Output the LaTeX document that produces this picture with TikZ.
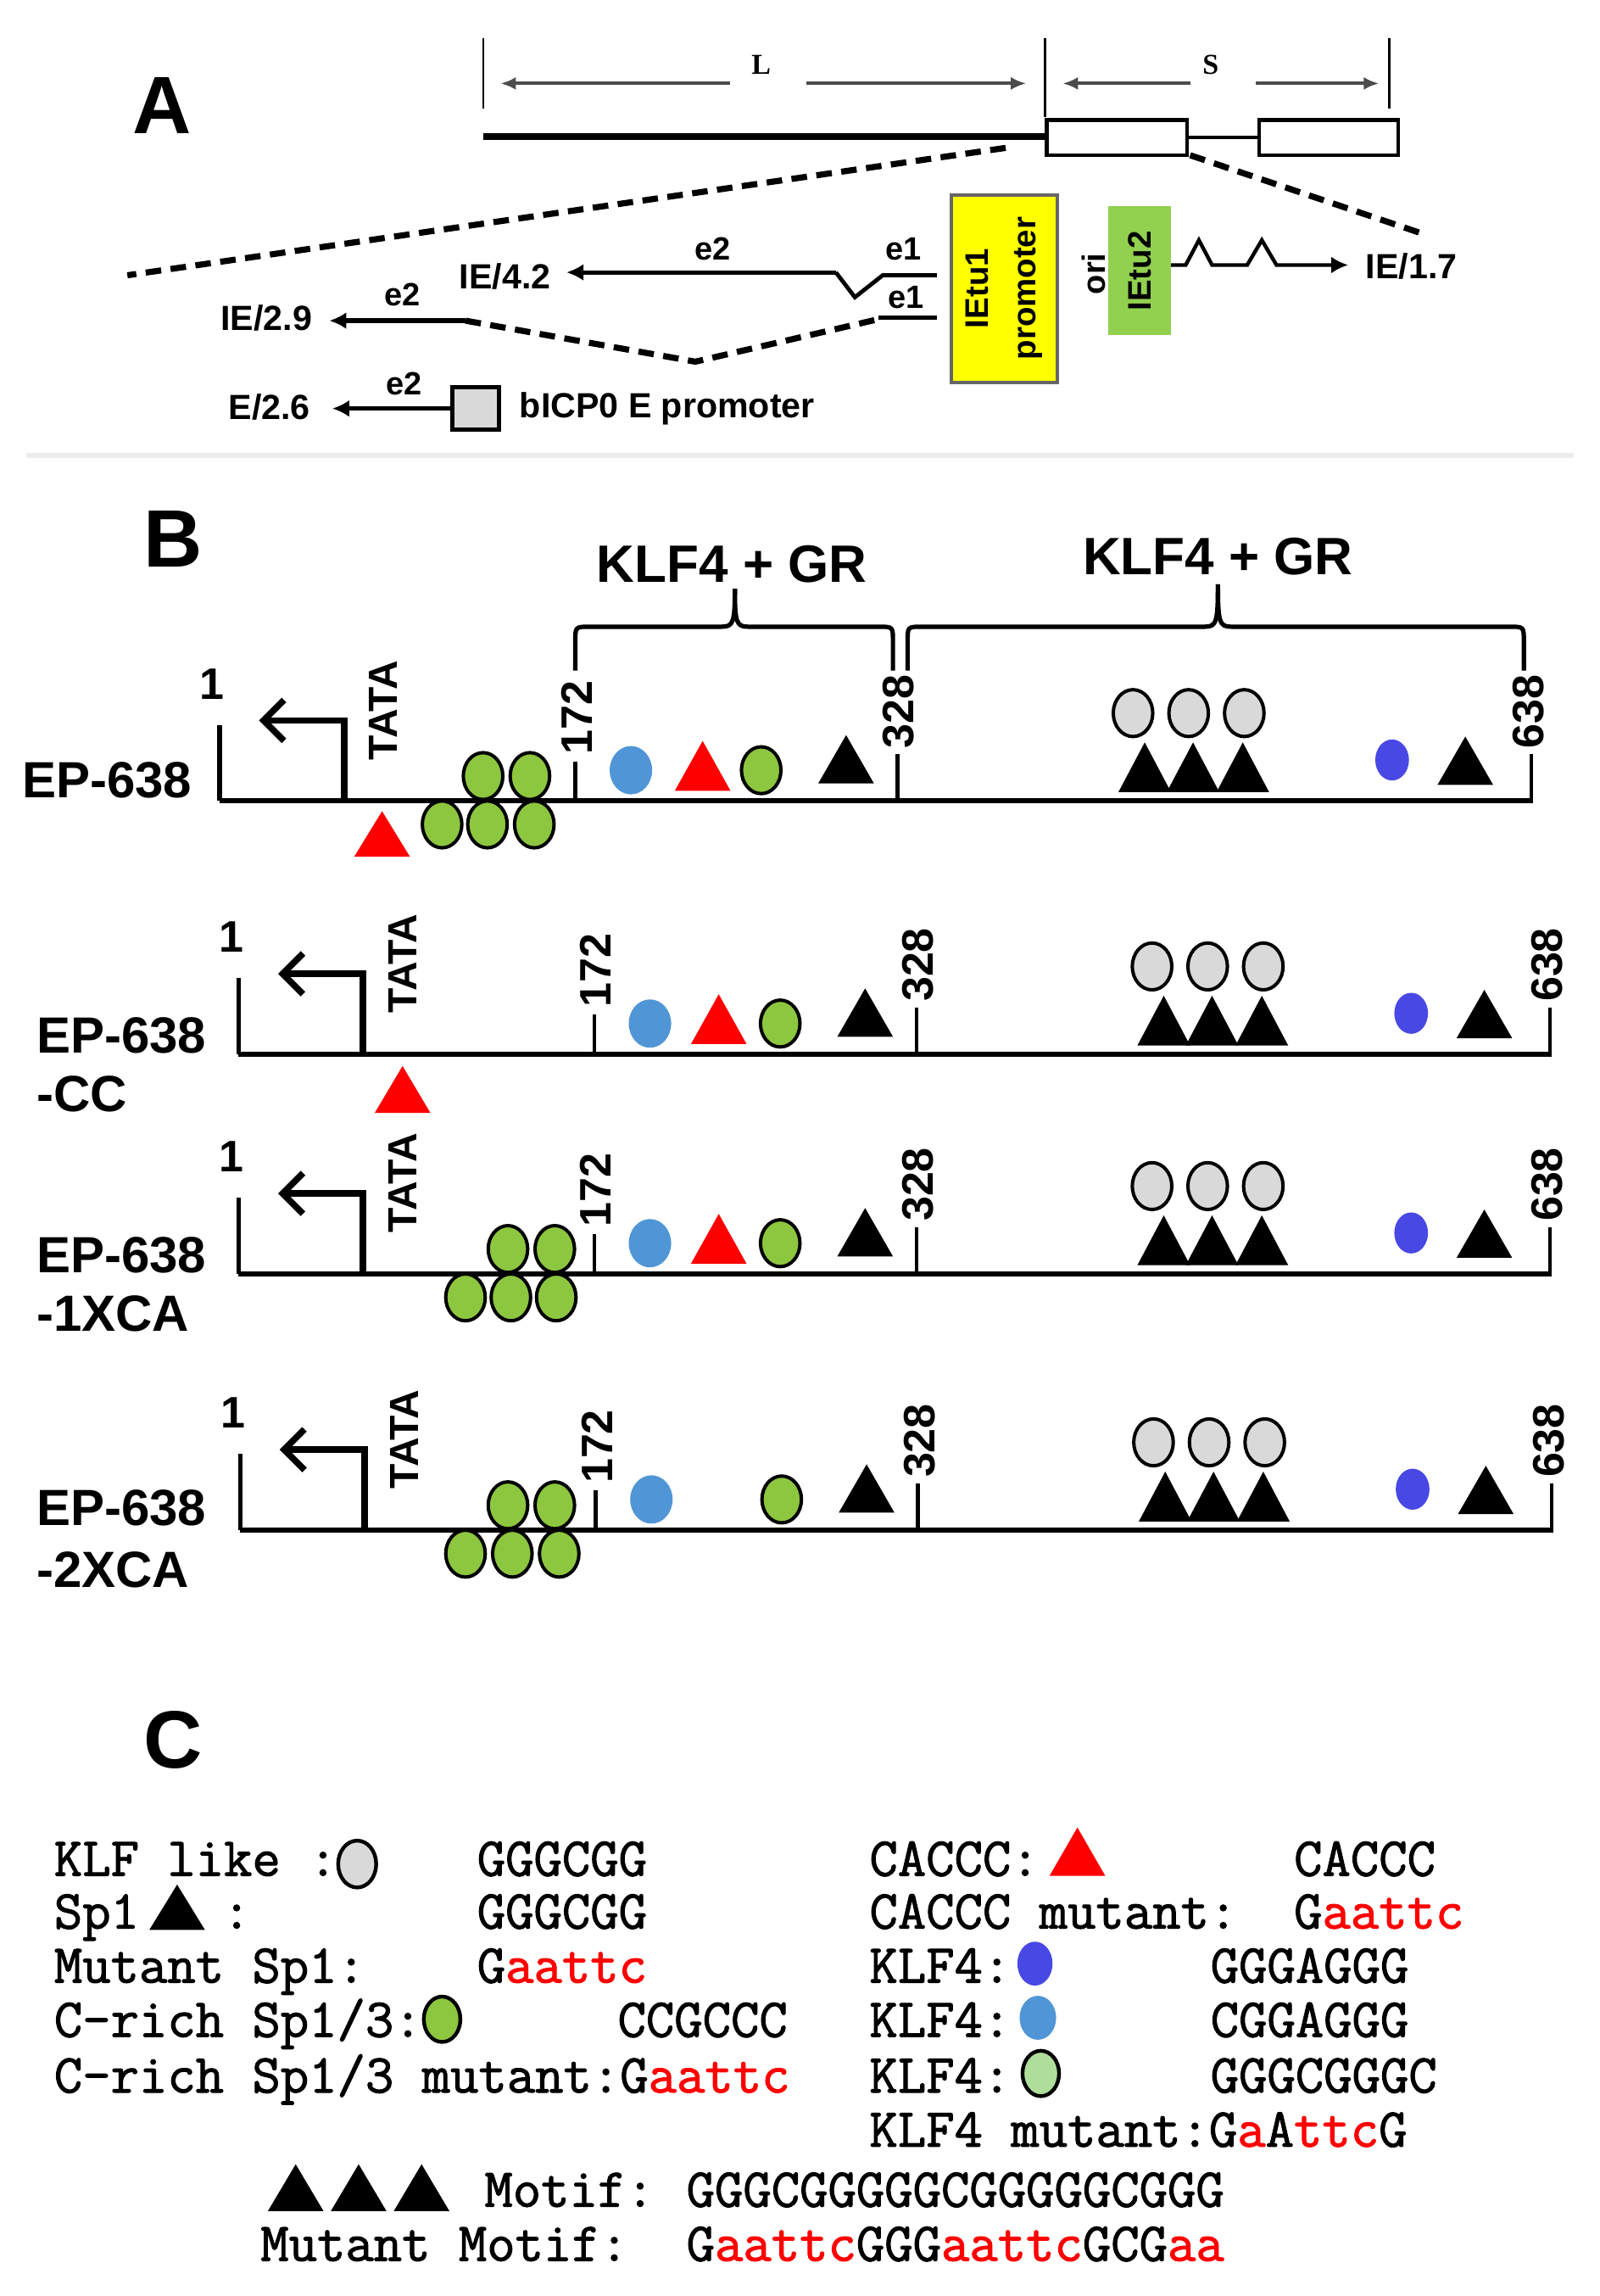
\documentclass[tikz,border=0pt]{standalone}
\usepackage{fontspec}
\setmainfont{Liberation Sans}
\newfontfamily\tnr{Liberation Serif}
\newfontfamily\cour{Latin Modern Mono}[FakeBold=1.6]
\usetikzlibrary{arrows.meta,shapes.geometric}
\definecolor{cgreen}{RGB}{141,198,63}
\definecolor{cgray}{RGB}{217,217,217}
\definecolor{clblue}{RGB}{80,150,215}
\definecolor{cdblue}{RGB}{72,72,228}
\definecolor{cred}{RGB}{255,0,0}
\definecolor{cpale}{RGB}{175,222,155}
\definecolor{cyel}{RGB}{255,255,0}
\definecolor{cietu}{RGB}{146,208,80}
\definecolor{csep}{RGB}{236,236,236}
\newcommand\gc[2]{\filldraw[fill=cgreen,draw=black,line width=1pt] (#1,#2) ellipse [x radius=13.5,y radius=16];}
\newcommand\grc[2]{\filldraw[fill=cgray,draw=black,line width=1pt] (#1,#2) ellipse [x radius=13.5,y radius=16];}
\newcommand\lbc[2]{\fill[clblue] (#1,#2) ellipse [x radius=14.5,y radius=16.5];}
\newcommand\dbc[2]{\fill[cdblue] (#1,#2) ellipse [x radius=11.5,y radius=14];}
% colour, x centre, y base, half width, height
\newcommand\tri[5]{\fill[#1] (#2-#4,#3) -- (#2+#4,#3) -- (#2,#3-#5) -- cycle;}
\newcommand\brc[4]{%
\draw[line width=1.3pt] (#1,458) -- (#1,438) .. controls (#1,428) .. (#1+10,428) -- (#3-9,428) .. controls (#3-1,428) and (#3,425) .. (#3,#4);
\draw[line width=1.3pt] (#2,458) -- (#2,438) .. controls (#2,428) .. (#2-10,428) -- (#3+9,428) .. controls (#3+1,428) and (#3,425) .. (#3,#4);}
\newcommand\prow[2]{%
\begin{scope}[shift={(#1,#2)}]
\draw[line width=1.5pt] (150,0) -- (1047,0);
\draw[line width=1.3pt] (150,0) -- (150,-52);
\node[num] at (145,-80) {1};
\draw[line width=1.9pt,-{Straight Barb[length=6pt,width=12pt]}] (235,0) -- (235,-55) -- (177,-55);
\node[tata] at (262,-28) {TATA};
\draw[line width=1.1pt] (393,0) -- (393,-27);
\node[rnum] at (394,-32) {172};
\draw[line width=1.1pt] (613,0) -- (613,-32);
\node[rnum] at (614,-36) {328};
\draw[line width=1.1pt] (1046,0) -- (1046,-32);
\node[rnum] at (1044,-36) {638};
\lbc{431}{-21}
\gc{520}{-21}
\tri{black}{578}{-12}{19}{33}
\grc{774}{-60}\grc{812}{-60}\grc{850}{-60}
\tri{black}{782}{-6}{18}{34}\tri{black}{815}{-6}{18}{34}\tri{black}{849}{-6}{18}{34}
\dbc{951}{-28}
\tri{black}{1001}{-11}{19}{33}
\end{scope}}
\begin{document}
\begin{tikzpicture}[x=0.4316pt,y=-0.4316pt,
  every node/.style={inner sep=0pt,outer sep=0pt},
  sa/.style={font=\bfseries\fontsize{10.3}{12}\selectfont},
  se/.style={font=\bfseries\fontsize{9.5}{11}\selectfont},
  lsf/.style={font=\tnr\bfseries\fontsize{8.5}{10}\selectfont},
  big/.style={font=\bfseries\fontsize{24}{28}\selectfont},
  klf/.style={font=\bfseries\fontsize{15.5}{18}\selectfont},
  eplab/.style={font=\bfseries\fontsize{15}{18}\selectfont,anchor=west},
  num/.style={font=\bfseries\fontsize{13}{15}\selectfont},
  rnum/.style={num,rotate=90,anchor=west},
  tata/.style={font=\bfseries\fontsize{12}{14}\selectfont,rotate=90,anchor=west},
  mono/.style={font=\cour\fontsize{16.2}{18}\selectfont,anchor=base west},
  dimarr/.style={line width=1pt,black!70,-{Latex[length=4.5pt,width=3.8pt]}},
  dline/.style={line width=1.8pt,dash pattern=on 4.6pt off 2.8pt},
  sarr/.style={line width=1.3pt,-{Latex[length=5pt,width=5pt]}},
]
\useasboundingbox (0,0) rectangle (1093,1568);
\fill[white] (0,0) rectangle (1093,1568);
% ================= Panel A =================
\node[big] (labA) at (111,72) {A};
\draw[line width=0.6pt] (330,26) -- (330,74);
\draw[line width=0.6pt] (714,26) -- (714,80);
\draw[line width=0.6pt] (949,26) -- (949,74);
\node[lsf] (Lt) at (520,44) {L};
\node[lsf] (St) at (827,44) {S};
\draw[dimarr] (499,57) -- (342,57);
\draw[dimarr] (551,57) -- (701,57);
\draw[dimarr] (813,57) -- (726,57);
\draw[dimarr] (858,57) -- (942,57);
\node[draw,line width=1.1pt,minimum width=41.4pt,minimum height=10.4pt] (box1) at (763,94) {};
\node[draw,line width=1.1pt,minimum width=41pt,minimum height=10.4pt] (box2) at (907.5,94) {};
\draw[line width=2pt] (330,93) -- (box1.west |- 0,93);
\draw[line width=1pt] (box1.east) -- (box2.west);
\draw[dline] (687,101) -- (87,188);
\draw[dline] (813,106) -- (973,160);
\node[draw=black!60,line width=1pt,fill=cyel,minimum width=31.1pt,minimum height=55.2pt] (p1) at (686,197) {};
\node[rotate=90,align=center,font=\bfseries\fontsize{9.6}{14}\selectfont] (p1t) at (p1.center) {IEtu1\\promoter};
\node[fill=cietu,minimum width=18.6pt,minimum height=38pt] (p2) at (778.5,185) {};
\node[rotate=90,font=\bfseries\fontsize{9.6}{11}\selectfont] (p2t) at (p2.center) {IEtu2};
\node[se,rotate=90] (ori) at (747,187) {ori};
\node[sa,anchor=west] (ie17) at (933,182) {IE/1.7};
\draw[line width=1.1pt,-{Latex[length=5pt,width=5pt]}] (p2.east |- 0,181) -- (810,181) -- (819,164) -- (828,181) -- (852,181) -- (862,164) -- (872,181) -- (921,181);
\node[sa] (ie42) at (345,189) {IE/4.2};
\node[se] (e2a) at (487,170) {e2};
\draw[sarr] (571,186) -- (387,186);
\draw[line width=1.2pt] (571,186) -- (584,203) -- (603,188) -- (640,188);
\node[se] (e1a) at (617,170) {e1};
\node[se] (e1b) at (619,203) {e1};
\draw[line width=1.2pt] (600,217) -- (640,217);
\node[sa] (ie29) at (182,217) {IE/2.9};
\node[se] (e2b) at (275,201) {e2};
\draw[sarr] (318,219) -- (225,219);
\draw[dline] (318,219) -- (475,247) -- (600,218);
\node[sa] (e26) at (184,278) {E/2.6};
\node[se] (e2c) at (276,262) {e2};
\node[draw,line width=1.1pt,fill=cgray,minimum width=13.8pt,minimum height=12.5pt] (bbox) at (325,279) {};
\draw[sarr] (bbox.west) -- (227,279);
\node[sa,anchor=west] (bicp) at (355,279) {bICP0 E promoter};
\draw[line width=1.3pt,csep] (18,311) -- (1075,311);
% ================= Panel B =================
\node[big] (labB) at (118,368) {B};
\node[klf] (k1) at (500,385) {KLF4 + GR};
\node[klf] (k2) at (832,380) {KLF4 + GR};
\brc{393}{610}{502}{402}
\brc{620}{1041}{832}{399}
% row 1
\prow{0}{547}
\begin{scope}[shift={(0,547)}]
\tri{cred}{480}{-7}{19}{34}
\tri{cred}{261}{38}{19}{31}
\gc{330}{-17}\gc{362}{-17}
\gc{302}{16}\gc{333}{16}\gc{365}{16}
\end{scope}
\node[eplab,anchor=east] (r1a) at (131,533) {EP-638};
% row 2
\prow{13}{720}
\begin{scope}[shift={(13,720)}]
\tri{cred}{478}{-7}{19}{34}
\tri{cred}{262}{40}{19}{32}
\end{scope}
\node[eplab] (r2a) at (25,707) {EP-638};
\node[eplab] (r2b) at (25,747) {-CC};
% row 3
\prow{13}{870}
\begin{scope}[shift={(13,870)}]
\tri{cred}{478}{-7}{19}{34}
\gc{334}{-17}\gc{366}{-17}
\gc{305}{16}\gc{336}{16}\gc{367}{16}
\end{scope}
\node[eplab] (r3a) at (25,857) {EP-638};
\node[eplab] (r3b) at (25,897) {-1XCA};
% row 4
\prow{14}{1045}
\begin{scope}[shift={(14,1045)}]
\gc{333}{-17}\gc{365}{-17}
\gc{304}{16}\gc{336}{16}\gc{368}{16}
\end{scope}
\node[eplab] (r4a) at (25,1030) {EP-638};
\node[eplab] (r4b) at (25,1072) {-2XCA};
% ================= Panel C =================
\node[big] (labC) at (118,1188) {C};
\node[mono] (c1) at (37,1281) {KLF like :};
\filldraw[fill=cgray,draw=black,line width=1.1pt] (244,1273) ellipse [x radius=13,y radius=16];
\node[mono] (c1s) at (326,1281) {GGGCGG};
\node[mono] (c2) at (37,1317) {Sp1};
\tri{black}{121}{1318}{19}{31}
\node[mono] (c2c) at (152,1317) {:};
\node[mono] (c2s) at (326,1317) {GGGCGG};
\node[mono] (c3) at (37,1354) {Mutant Sp1:};
\node[mono] (c3s) at (326,1354) {G\textcolor{cred}{aattc}};
\node[mono] (c4) at (37,1391) {C-rich Sp1/3:};
\filldraw[fill=cgreen,draw=black,line width=1.1pt] (302,1379) ellipse [x radius=12.5,y radius=15.5];
\node[mono] (c4s) at (422,1391) {CCGCCC};
\node[mono] (c5) at (37,1429) {C-rich Sp1/3 mutant:G\textcolor{cred}{aattc}};
\node[mono] (d1) at (594,1281) {CACCC:};
\tri{cred}{736}{1281}{19}{33}
\node[mono] (d1s) at (884,1281) {CACCC};
\node[mono] (d2) at (594,1317) {CACCC mutant:};
\node[mono] (d2s) at (884,1317) {G\textcolor{cred}{aattc}};
\node[mono] (d3) at (594,1354) {KLF4:};
\fill[cdblue] (707,1341) ellipse [x radius=12,y radius=15];
\node[mono] (d3s) at (827,1354) {GGGAGGG};
\node[mono] (d4) at (594,1391) {KLF4:};
\fill[clblue] (709,1378) ellipse [x radius=12.5,y radius=15];
\node[mono] (d4s) at (827,1391) {CGGAGGG};
\node[mono] (d5) at (594,1429) {KLF4:};
\filldraw[fill=cpale,draw=black,line width=1.1pt] (711,1416) ellipse [x radius=12.5,y radius=15.5];
\node[mono] (d5s) at (827,1429) {GGGCGGGC};
\node[mono] (d6) at (594,1466) {KLF4 mutant:G\textcolor{cred}{a}A\textcolor{cred}{ttc}G};
\tri{black}{202}{1510}{19}{32}
\tri{black}{245}{1510}{19}{32}
\tri{black}{288}{1510}{19}{32}
\node[mono] (m1) at (331,1507) {Motif:};
\node[mono] (m1s) at (469,1507) {GGGCGGGGGCGGGGGCGGG};
\node[mono] (m2) at (178,1544) {Mutant Motif:};
\node[mono] (m2s) at (469,1544) {G\textcolor{cred}{aattc}GGG\textcolor{cred}{aattc}GCG\textcolor{cred}{aa}};
\end{tikzpicture}
\end{document}
